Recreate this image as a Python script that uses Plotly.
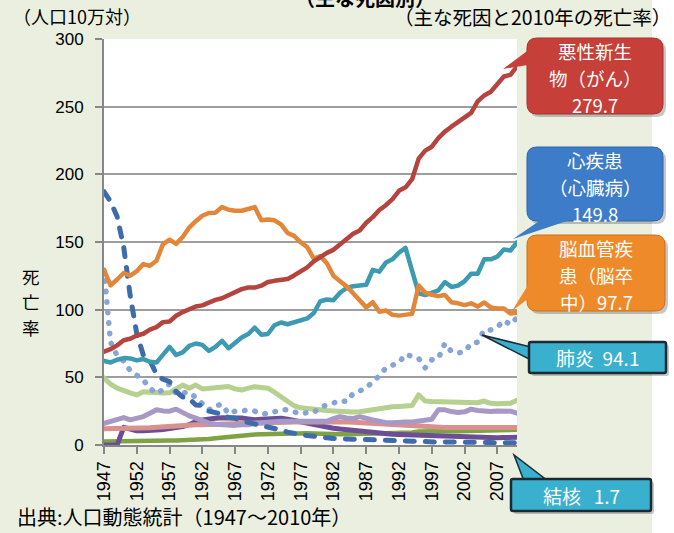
import plotly.graph_objects as go

# ---------------- data ----------------
years = list(range(1947, 2011))
tick_years = [1947, 1952, 1957, 1962, 1967, 1972, 1977, 1982, 1987, 1992, 1997, 2002, 2007]
y_ticks = [0, 50, 100, 150, 200, 250, 300]

cancer = [69.0, 70.8, 73.6, 77.4, 78.5, 80.9, 82.2, 85.3, 87.1, 90.8,
          91.3, 95.5, 98.2, 100.4, 102.3, 103.2, 105.5, 107.2, 108.4, 110.8,
          113.0, 115.2, 116.4, 116.3, 117.7, 120.4, 121.3, 122.2, 122.6, 125.3,
          128.4, 131.3, 135.7, 139.1, 142.0, 144.2, 148.3, 152.5, 156.1, 158.5,
          164.2, 168.4, 173.6, 177.2, 181.7, 187.8, 190.4, 196.4, 211.6, 217.5,
          220.4, 226.7, 231.6, 235.2, 238.8, 241.7, 245.4, 253.9, 258.3, 261.0,
          266.9, 272.3, 273.5, 279.7]

heart = [62.2, 61.0, 63.0, 64.2, 64.0, 62.5, 63.5, 61.5, 60.9, 66.5,
         72.5, 66.5, 68.5, 73.2, 75.0, 74.0, 69.5, 72.5, 77.0, 71.5,
         75.5, 79.5, 82.0, 86.7, 81.5, 82.0, 88.5, 90.5, 89.2, 90.5,
         92.5, 93.5, 97.5, 106.2, 107.5, 107.0, 112.5, 116.0, 117.3, 117.9,
         118.4, 129.4, 128.1, 134.8, 137.2, 142.2, 145.6, 128.6, 112.0, 110.8,
         112.2, 114.3, 120.4, 116.8, 117.8, 121.0, 126.5, 126.5, 137.2, 137.2,
         139.2, 144.4, 143.7, 149.8]

stroke = [129.4, 117.9, 122.3, 127.1, 125.2, 128.4, 133.7, 132.4, 136.1, 148.4,
          151.7, 148.6, 153.7, 160.7, 165.4, 169.4, 171.4, 171.7, 175.8, 173.8,
          173.1, 173.1, 174.4, 175.8, 166.1, 166.7, 166.0, 163.0, 156.7, 154.5,
          149.8, 146.2, 137.7, 139.5, 134.3, 125.0, 121.0, 117.2, 112.2, 106.9,
          101.7, 105.5, 98.5, 99.4, 96.2, 95.6, 96.0, 96.9, 117.9, 112.6,
          111.0, 110.0, 110.8, 105.5, 104.7, 103.4, 104.7, 102.3, 105.3, 101.7,
          100.8, 100.9, 97.2, 97.7]

pneumonia = [129, 76, 66, 62, 55, 51, 48, 42, 38, 41,
             45, 38, 38, 39, 35, 31, 26, 29, 30, 23,
             25, 25, 26, 25, 23, 23, 25, 26, 26, 25,
             23, 24, 24, 28, 29, 31, 33, 32, 38, 40,
             42, 47, 51, 57, 59, 61, 67, 66, 64, 57,
             63, 64, 75, 69, 68, 69, 75, 76, 85, 85,
             87, 92, 89, 94.1]

tuberculosis = [187.2, 179.9, 168.8, 146.4, 110.3, 82.2, 66.5, 62.4, 52.3, 48.6,
                46.9, 39.5, 35.5, 34.2, 29.6, 29.3, 25.0, 23.5, 22.8, 20.3,
                19.8, 17.8, 16.8, 15.4, 14.0, 13.0, 12.0, 11.0, 9.5, 8.5,
                7.5, 7.0, 6.5, 5.5, 5.3, 4.8, 4.6, 4.3, 3.9, 3.7,
                3.5, 3.3, 3.1, 3.0, 2.8, 2.7, 2.6, 2.6, 2.6, 2.3,
                2.2, 2.2, 2.3, 2.1, 2.0, 1.8, 1.9, 1.8, 1.8, 1.8,
                1.7, 1.8, 1.7, 1.7]

accident = [49.5, 45.0, 42.0, 40.0, 38.5, 37.0, 39.4, 39.0, 38.4, 38.4,
            38.6, 41.4, 44.3, 42.0, 44.3, 41.4, 41.8, 42.2, 42.6, 43.2,
            41.5, 40.6, 42.0, 43.0, 42.5, 42.0, 39.0, 35.7, 32.0, 29.0,
            27.5, 26.8, 26.0, 25.8, 25.5, 25.2, 24.6, 24.4, 24.3, 24.5,
            25.3, 26.5, 27.0, 27.7, 28.2, 28.5, 28.7, 29.2, 37.0, 32.5,
            32.2, 32.0, 32.3, 32.0, 31.8, 31.5, 31.5, 31.2, 32.5, 30.8,
            30.5, 30.7, 30.8, 33.0]

suicide = [16.0, 17.5, 19.5, 20.3, 18.6, 19.5, 21.0, 23.5, 26.0, 25.2,
           25.0, 26.5, 23.5, 21.5, 19.8, 17.8, 16.1, 15.3, 14.9, 15.0,
           14.5, 15.0, 15.0, 16.0, 16.5, 17.0, 17.5, 17.5, 17.5, 17.5,
           17.5, 17.5, 18.0, 18.0, 17.5, 19.5, 21.0, 20.0, 19.5, 21.0,
           19.5, 18.5, 17.5, 16.5, 16.5, 17.0, 17.0, 17.0, 17.5, 18.0,
           19.0, 26.0, 26.0, 24.7, 24.0, 24.5, 26.5, 25.5, 24.7, 24.8,
           25.2, 25.0, 25.0, 23.5]

salmon = [12.0, 12.0, 12.0, 12.0, 12.0, 12.2, 12.5, 12.8, 13.2, 13.6,
          14.0, 14.2, 14.5, 14.8, 15.0, 15.0, 15.2, 15.3, 15.5, 15.7,
          16.0, 16.2, 16.4, 16.6, 16.6, 16.8, 16.8, 16.9, 17.0, 17.0,
          17.0, 17.1, 17.2, 17.3, 17.3, 17.3, 17.2, 17.0, 16.8, 16.5,
          16.2, 16.0, 15.7, 15.3, 15.0, 14.6, 14.2, 13.8, 13.6, 13.4,
          13.2, 13.1, 13.0, 13.0, 12.9, 12.9, 12.9, 12.9, 12.9, 12.9,
          12.9, 12.9, 12.9, 12.9]

dark_purple = [0, 0, 0, 13.0, 11.5, 10.5, 10.5, 10.5, 11.0, 11.5,
               12.0, 13.0, 13.6, 15.0, 17.3, 18.5, 19.5, 19.8, 20.2, 20.3,
               20.3, 20.0, 19.3, 18.6, 19.0, 19.5, 19.8, 19.8, 19.0, 18.0,
               17.3, 16.0, 14.5, 13.6, 13.0, 12.4, 11.8, 11.2, 10.6, 10.0,
               9.4, 9.0, 8.6, 8.2, 7.9, 7.7, 7.5, 7.2, 7.0, 6.8,
               6.7, 6.5, 6.2, 6.0, 5.7, 5.4, 5.2, 5.1, 5.1, 5.2,
               5.3, 5.5, 5.6, 5.7]

dark_green = [2.5, 2.5, 2.5, 2.6, 2.7, 2.8, 2.9, 3.0, 3.1, 3.2,
              3.3, 3.4, 3.5, 3.6, 3.7, 4.0, 4.5, 5.0, 5.6, 6.2,
              6.6, 7.0, 7.4, 7.8, 8.0, 8.2, 8.4, 8.6, 8.7, 8.8,
              8.8, 8.7, 8.5, 8.2, 8.0, 7.9, 7.9, 8.0, 8.1, 8.2,
              8.3, 8.4, 8.5, 8.6, 8.7, 8.8, 9.0, 9.3, 10.0, 10.2,
              10.3, 10.3, 10.4, 10.3, 10.2, 10.2, 10.3, 10.3, 10.6, 10.6,
              10.8, 11.0, 11.0, 11.2]

# ---------------- layout geometry ----------------
WIDTH, HEIGHT = 674, 533
L, R, T, B = 104, 517, 39, 445
PW, PH = R - L, B - T

def fx(px):
    return (px - L) / PW

def fy(py):
    return (B - py) / PH

JP = "Noto Sans CJK JP"
NUM = "Liberation Sans"

fig = go.Figure()

series = [
    (dark_green, "#7EA244", 4.5, "solid"),
    (dark_purple, "#6C4E94", 5, "solid"),
    (salmon, "#D8918D", 5, "solid"),
    (suicide, "#A898C6", 5, "solid"),
    (accident, "#B6D08F", 5, "solid"),
    (pneumonia, "#86A5D6", 5.5, "0.5px,10px"),
    (tuberculosis, "#3E6CAB", 5, "9px,11px"),
    (heart, "#3C9AB3", 4.5, "solid"),
    (stroke, "#E2873A", 4.5, "solid"),
    (cancer, "#B5433E", 4.5, "solid"),
]
for vals, col, w, dash in series:
    fig.add_trace(go.Scatter(x=years, y=vals, mode="lines",
                             line=dict(color=col, width=w, dash=dash),
                             hoverinfo="skip", showlegend=False))

shapes = []
# white strip at the far right of the page
shapes.append(dict(type="rect", xref="paper", yref="paper", layer="below",
                   x0=fx(652), x1=fx(WIDTH + 5), y0=fy(HEIGHT + 5), y1=fy(-5),
                   fillcolor="white", line=dict(width=0)))


def rrect_path(x0, y0, x1, y1, r):
    pts = [("M", x0 + r, y0), ("L", x1 - r, y0), ("Q", x1, y0, x1, y0 + r),
           ("L", x1, y1 - r), ("Q", x1, y1, x1 - r, y1), ("L", x0 + r, y1),
           ("Q", x0, y1, x0, y1 - r), ("L", x0, y0 + r), ("Q", x0, y0, x0 + r, y0)]
    s = ""
    for p in pts:
        cmd = p[0]
        coords = p[1:]
        parts = []
        for i in range(0, len(coords), 2):
            parts.append(f"{fx(coords[i]):.5f},{fy(coords[i+1]):.5f}")
        s += cmd + " " + " ".join(parts) + " "
    return s + "Z"


def tri_path(p1, p2, p3):
    return (f"M {fx(p1[0]):.5f},{fy(p1[1]):.5f} L {fx(p2[0]):.5f},{fy(p2[1]):.5f} "
            f"L {fx(p3[0]):.5f},{fy(p3[1]):.5f} Z")


def callout(box, r, fill, edge, edge_w, tip, b1, b2, ptr_line=None):
    x0, y0, x1, y1 = box
    shapes.append(dict(type="path", xref="paper", yref="paper", layer="above",
                       path=rrect_path(x0 + 3, y0 + 3, x1 + 3, y1 + 3, r),
                       fillcolor="rgba(0,0,0,0.22)", line=dict(width=0)))
    if ptr_line:
        shapes.append(dict(type="path", xref="paper", yref="paper", layer="above",
                           path=tri_path(tip, b1, b2), fillcolor=fill,
                           line=dict(color=ptr_line, width=1.5)))
    shapes.append(dict(type="path", xref="paper", yref="paper", layer="above",
                       path=rrect_path(x0, y0, x1, y1, r), fillcolor=fill,
                       line=dict(color=edge, width=edge_w)))
    if not ptr_line:
        shapes.append(dict(type="path", xref="paper", yref="paper", layer="above",
                           path=tri_path(tip, b1, b2), fillcolor=fill,
                           line=dict(width=0)))


callout((527, 38, 663, 114), 10, "#C63F39", "#A8322D", 1, (503, 69), (534, 46), (534, 64))
callout((527, 147, 663, 221), 10, "#3D7CC9", "#2E64A8", 1, (513, 239), (548, 215), (585, 215))
callout((527, 235, 665, 311), 10, "#EF8A2A", "#D06F17", 1, (512, 311), (533, 277), (533, 295))
callout((529, 342, 666, 373), 2, "#38B0CE", "#1C2A33", 2.5, (482, 335), (531, 347), (531, 360), "#1C2A33")
callout((511, 479, 651, 511), 2, "#38B0CE", "#1C2A33", 2.5, (514, 455), (524, 481), (548, 481), "#1C2A33")

annotations = []


def txt(text, px, py, size, color="black", xanchor="center", bold=False, family=JP):
    if bold:
        text = "<b>" + text + "</b>"
    annotations.append(dict(text=text, x=fx(px), y=fy(py), xref="paper", yref="paper",
                            xanchor=xanchor, yanchor="middle", showarrow=False,
                            borderpad=0,
                            font=dict(family=family, size=size, color=color)))


txt("（主な死因別）", 365, -3, 20, bold=True)
txt("（人口10万対）", 12, 16, 18, xanchor="left")
txt("（主な死因と2010年の死亡率）", 672, 17, 19.5, xanchor="right")
txt("死", 31, 276, 17.5)
txt("亡", 31, 301.5, 17.5)
txt("率", 31, 327, 17.5)
txt("出典:人口動態統計（1947〜2010年）", 16, 516, 20, xanchor="left")

CALL = 18.5
for line, py in zip(["悪性新生", "物（がん）", "279.7"], [51, 78, 105]):
    txt(line, 595, py, CALL, color="white")
for line, py in zip(["心疾患", "（心臓病）", "149.8"], [160, 187, 214]):
    txt(line, 595, py, CALL, color="white")
for line, py in zip(["脳血管疾", "患（脳卒", "中）97.7"], [248, 275, 302]):
    txt(line, 596, py, CALL, color="white")
txt("肺炎  94.1", 597, 357, 19, color="white")
txt("結核   1.7", 581, 495, 19, color="white")

fig.update_layout(
    width=WIDTH, height=HEIGHT,
    margin=dict(l=L, r=WIDTH - R, t=T, b=HEIGHT - B, pad=0),
    paper_bgcolor="#EBEFDF", plot_bgcolor="white",
    showlegend=False, hovermode=False,
    shapes=shapes, annotations=annotations,
    xaxis=dict(range=[years[0], years[-1]], tickmode="array", tickvals=tick_years,
               ticktext=[str(y) for y in tick_years], tickangle=-90,
               showgrid=False, zeroline=False, showline=True, linecolor="#878787",
               linewidth=2, ticks="outside", ticklen=7, tickwidth=2, tickcolor="#878787",
               tickfont=dict(family=NUM, size=18, color="black"), fixedrange=True),
    yaxis=dict(range=[0, 300], tickmode="array", tickvals=y_ticks,
               showgrid=True, gridcolor="#9E9E9E", gridwidth=2, zeroline=False,
               showline=True, linecolor="#878787", linewidth=2,
               ticks="outside", ticklen=7, tickwidth=2, tickcolor="#878787",
               ticklabelstandoff=8,
               tickfont=dict(family=NUM, size=17, color="black"), fixedrange=True),
)

post = """
document.body.style.margin = '0';
document.body.style.padding = '0';
var gd = document.getElementById('{plot_id}');
function fixCaps(){
  gd.querySelectorAll('.scatterlayer path.js-line').forEach(function(p){
    p.style.strokeLinecap = 'round';
    p.style.strokeLinejoin = 'round';
  });
}
fixCaps();
if (gd.on) { gd.on('plotly_afterplot', fixCaps); }
"""

fig.write_html("out.html", config={"displayModeBar": False, "staticPlot": True},
               post_script=post)
